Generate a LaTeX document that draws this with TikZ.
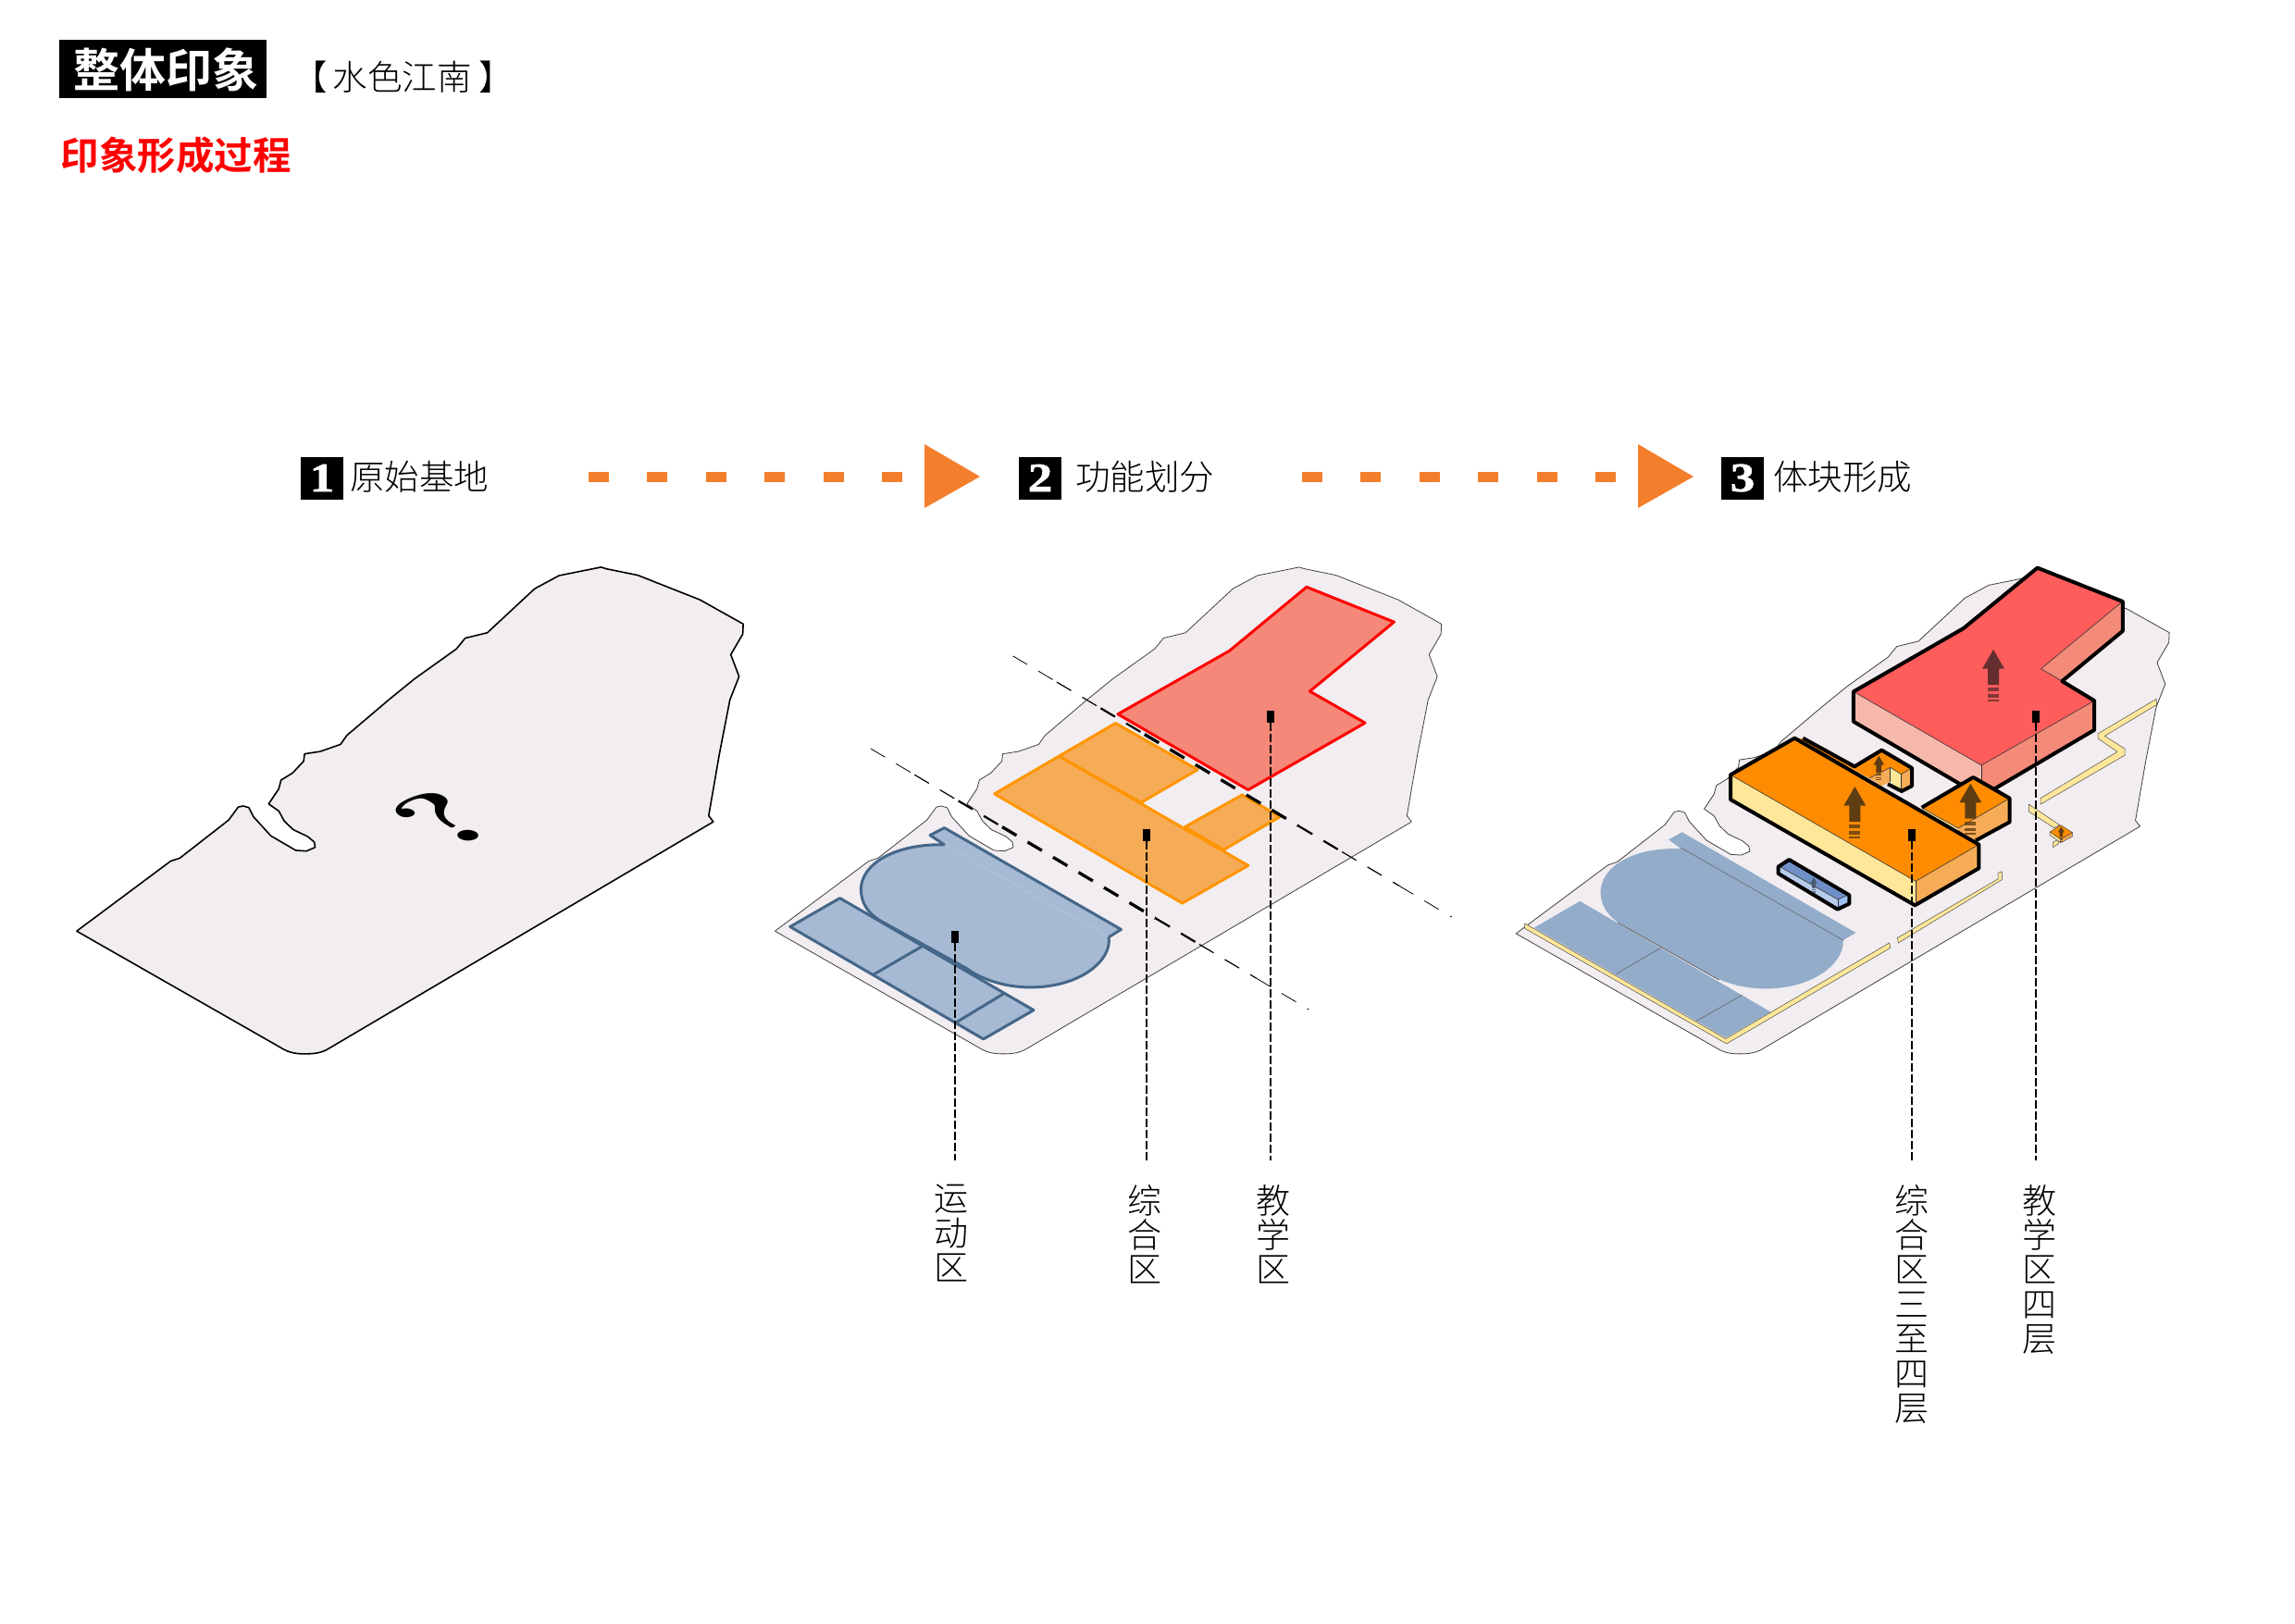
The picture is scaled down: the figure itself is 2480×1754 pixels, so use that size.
\documentclass[tikz,border=0pt]{standalone}
\usepackage{fontspec}
\usetikzlibrary{calc}
\newfontfamily\cjkreg{Noto Sans CJK SC}
\newfontfamily\cjkbold{Noto Sans CJK SC Bold}
\newfontfamily\cjklight{Noto Sans CJK SC Light}
\newfontfamily\fatnum[FakeStretch=1.2,FakeBold=1.5]{Liberation Serif Bold}
\definecolor{sitefill}{HTML}{F1EDF0}
\definecolor{orangearrow}{HTML}{F37F2D}
\definecolor{zoneblue}{HTML}{A6BAD3}
\definecolor{zonebluedk}{HTML}{456789}
\definecolor{fieldblue}{HTML}{93ACCA}
\definecolor{zoneorange}{HTML}{F6AB57}
\definecolor{strokeorange}{HTML}{FF9500}
\definecolor{zonered}{HTML}{F58878}
\definecolor{massred}{HTML}{FF5C5C}
\definecolor{massredl}{HTML}{F7B8AC}
\definecolor{massredr}{HTML}{F48A78}
\definecolor{massor}{HTML}{FF8C00}
\definecolor{massyel}{HTML}{FFE79A}
\definecolor{arrowbrown}{HTML}{5F3D13}
\definecolor{arrowred}{HTML}{642E30}
\definecolor{arrowgrey}{HTML}{4A5A70}
\definecolor{barside}{HTML}{B7CCEA}
\definecolor{barend}{HTML}{9CC0F0}
\definecolor{bartop}{HTML}{6F90C6}
\newcommand\sitepath{(46,1145) -- (250,937) -- (270,928) -- (376,815) -- (397,776) -- (408,773) -- (420,778) -- (430,805) -- (468,862) -- (522,905) -- (545,907) -- (564,896) -- (562,880) -- (548,864) -- (516,843) -- (497,818) -- (485,788) -- (463,767) -- (485,722) -- (490,696) -- (515,675) -- (539,640) -- (541,618) -- (575,611) -- (619,590) -- (633,563) -- (726,455) -- (780,395) -- (871,306) -- (890,274) -- (938,258) -- (1041,127) -- (1094,88) -- (1185,63) -- (1197,68) -- (1265,87) -- (1400,160) -- (1494,232) -- (1493,262) -- (1467,323) -- (1485,388) -- (1465,458) -- (1442,620) -- (1419,802) -- (1429,820) -- (590,1497) .. controls (575,1508) and (560,1510) .. (540,1510) .. controls (520,1510) and (505,1505) .. (490,1492) -- cycle}
\newcommand\taperdash[2]{\foreach \fa/\fb/\fw in {0/.1/.8,.1/.2/1.2,.2/.3/2.2,.3/.65/3.3,.65/.75/2.2,.75/.88/1.2,.88/1/.8}{\draw[black,line width=\fw pt,dash pattern=on 18pt off 14pt] ($(#1)!\fa!(#2)$) -- ($(#1)!\fb!(#2)$);}}
\newcommand\liftarrow[4]{\begin{scope}[shift={(#1pt,-#2pt)},x=#3pt,y=-#3pt]
\fill[#4] (0,0) -- (12,20.7) -- (6,20.7) -- (6,38) -- (-6,38) -- (-6,20.7) -- (-12,20.7) -- cycle;
\fill[#4,opacity=.8] (-6,41) rectangle (6,45.3);
\fill[#4,opacity=.8] (-6,48) rectangle (6,51.5);
\fill[#4,opacity=.8] (-6,53.5) rectangle (6,55.5);
\end{scope}}
\tikzset{
 sitebold/.style={fill=sitefill,draw=black,line width=1.6pt,line join=round},
 sitethin/.style={fill=sitefill,draw=black!75,line width=.8pt,line join=round},
 zonebluest/.style={fill=zoneblue,draw=zonebluedk,line width=3pt,line join=round},
 zoneorst/.style={fill=zoneorange,draw=strokeorange,line width=3pt,line join=round},
 zoneredst/.style={fill=zonered,draw=red,line width=3pt,line join=round},
 massline/.style={draw=black,line width=4pt,line join=round},
 thinline/.style={draw=black!80,line width=.6pt},
 wallst/.style={fill=massyel,draw=black!70,line width=.5pt,line join=round},
 marker/.style={fill=black,inner sep=0pt,minimum width=8pt,minimum height=12.5pt},
 leader/.style={black,line width=1.5pt,dash pattern=on 9pt off 3pt},
 vlabel/.style={font=\cjklight\fontsize{37}{37.4}\selectfont,align=center,anchor=north,inner sep=0pt},
 stepnum/.style={fill=black,text=white,inner sep=0pt,minimum size=46pt,font=\fatnum\fontsize{44}{44}\selectfont},
 steptext/.style={font=\cjklight\fontsize{37.5}{37.5}\selectfont,anchor=base west,inner sep=0pt},
 stepdash/.style={orangearrow,line width=11pt,dash pattern=on 22pt off 41.4pt},
}
\begin{document}
\begin{tikzpicture}[x=1pt,y=-1pt]
\useasboundingbox (0,0) rectangle (2480,1754);
\fill[white] (0,0) rectangle (2480,1754);
% titles
\node[fill=black,minimum width=224pt,minimum height=63pt,inner sep=0pt] (titlebox) at (176,74.5) {};
\node[text=white,font=\cjkbold\fontsize{50}{50}\selectfont,anchor=base west,inner sep=0pt] (title) at (79,94.5) {整体印象};
\node[font=\cjklight\fontsize{37.5}{37.5}\selectfont,anchor=base west,inner sep=0pt] (subtitle) at (316,97.7) {【\hspace{6pt}水色江南\hspace{8pt}】};
\node[text=red,font=\cjkbold\fontsize{41.5}{41.5}\selectfont,anchor=base west,inner sep=0pt] (process) at (65.5,183.3) {印象形成过程};
% step headers
\node[stepnum] (s1) at (348,516.5) {1};
\node[steptext] (t1) at (378,529.6) {原始基地};
\node[stepnum] (s2) at (1124,516.5) {2};
\node[steptext] (t2) at (1162,529.6) {功能划分};
\node[stepnum] (s3) at (1883,516.5) {3};
\node[steptext] (t3) at (1916,529.6) {体块形成};
\coordinate (a1) at (636,515); \coordinate (a2) at (975,515);
\coordinate (b1) at (1407,515); \coordinate (b2) at (1746,515);
\draw[stepdash] (a1) -- (a2);
\draw[stepdash] (b1) -- (b2);
\fill[orangearrow] (999,480) -- (1059,515) -- (999,549) -- cycle;
\fill[orangearrow] (1770,480) -- (1830,515) -- (1770,549) -- cycle;
% site 1
\begin{scope}[x=.4974pt,y=-.3635pt,shift={(60pt,-590pt)}]
\path[sitebold] \sitepath;
\end{scope}
\node[font=\bfseries\fontsize{124}{124}\selectfont,inner sep=0pt,cm={.94,.42,-.84,.5,(0,0)}] (qm) at (479,885) {?};
% site 2
\begin{scope}[x=.4974pt,y=-.3635pt,shift={(814.5pt,-590pt)}]
\path[sitethin] \sitepath;
\end{scope}
\begin{scope}[x=.4974pt,y=-.3635pt,shift={(820pt,-590pt)}]
\path[zonebluest] (372,860) -- (403,838) -- (787,1140) -- (760,1163) .. controls (768,1230) and (700,1312) .. (590,1312) .. controls (530,1312) and (480,1285) .. (450,1255) -- (265,1115) .. controls (235,1090) and (222,1060) .. (222,1020) .. controls (222,950) and (290,885) .. (403,888) -- cycle;
\draw[zonebluedk!35,line width=.5pt] (403,888) -- (760,1163);
\path[zonebluest] (68,1132) -- (176,1047) -- (597,1380) -- (488,1466) -- cycle;
\draw[zonebluest,fill=none] (355,1190) -- (248,1275);
\draw[zonebluest,fill=none] (533,1330) -- (428,1417);
\path[zoneorst] (652,625) -- (775,527) -- (953,665) -- (830,763) -- cycle;
\path[zoneorst] (925,836) -- (1050,740) -- (1132,805) -- (1010,903) -- cycle;
\path[zoneorst] (512,737) -- (652,625) -- (1063,950) -- (920,1062) -- cycle;
\path[zoneredst] (780,500) -- (1022,312) -- (1190,122) -- (1380,226) -- (1197,432) -- (1317,526) -- (1063,725) -- cycle;
\end{scope}
\coordinate (u1) at (1094.6,708.9); \coordinate (u2) at (1568.6,991);
\coordinate (v1) at (940.9,809); \coordinate (v2) at (1414.4,1091);
\taperdash{u1}{u2}
\taperdash{v1}{v2}
% site 3
\begin{scope}[x=.4875pt,y=-.3562pt,shift={(1615.8pt,-601pt)}]
\path[sitethin] \sitepath;
\end{scope}
\begin{scope}[x=.4847pt,y=-.3635pt,shift={(1620pt,-590pt)}]
\fill[fieldblue] (378,873) -- (408,851) -- (795,1150) -- (767,1172) .. controls (770,1240) and (700,1316) .. (595,1316) .. controls (530,1316) and (490,1290) .. (455,1265) -- (265,1120) .. controls (240,1095) and (226,1065) .. (226,1030) .. controls (226,960) and (290,895) .. (405,900) -- cycle;
\fill[fieldblue] (78,1135) -- (180,1056) -- (605,1385) -- (505,1462) -- cycle;
\draw[black!60,line width=.6pt] (405,897) -- (767,1172);
\draw[black!55,line width=1pt] (265,1120) -- (490,1290);
\draw[black!60,line width=.6pt] (360,1195) -- (260,1273);
\draw[black!60,line width=.6pt] (542,1335) -- (440,1412);
% walls
\path[wallst] (57,1122) -- (505,1465) -- (870,1180) -- (872,1195) -- (507,1480) -- (57,1137) -- cycle;
\path[wallst] (888,1165) -- (1112,990) -- (1112,972) -- (1121,968) -- (1121,992) -- (890,1180) -- cycle;
\path[wallst] (1207,750) -- (1378,612) -- (1335,572) -- (1335,558) -- (1465,455) -- (1466,472) -- (1350,565) -- (1395,603) -- (1395,622) -- (1207,768) -- cycle;
\path[wallst] (1181,768) -- (1250,830) -- (1237,838) -- (1181,790) -- cycle;
\path[wallst] (1235,880) -- (1247,873) -- (1247,885) -- (1235,896) -- cycle;
% small building
\path[wallst] (1228,850) -- (1252,872) -- (1252,882) -- (1228,860) -- cycle;
\path[fill=zoneorange,draw=black!70,line width=.5pt] (1252,872) -- (1278,852) -- (1278,864) -- (1252,882) -- cycle;
\path[fill=massor,draw=black!70,line width=.5pt] (1228,850) -- (1252,830) -- (1278,852) -- (1252,872) -- cycle;
% red building
\fill[massredl] (790,433) -- (1075,652) -- (1075,745) -- (790,522) -- cycle;
\fill[massredr] (1075,652) -- (1327,460) -- (1327,547) -- (1075,745) -- cycle;
\fill[massredr] (1208,365) -- (1390,165) -- (1390,253) -- (1255,402) -- cycle;
\fill[massred] (790,433) -- (1035,245) -- (1200,65) -- (1390,165) -- (1208,365) -- (1255,402) -- (1327,460) -- (1075,652) -- cycle;
\draw[thinline] (790,433) -- (1075,652) -- (1327,460);
\draw[thinline] (1075,652) -- (1075,745);
\draw[thinline] (1208,365) -- (1390,165);
\draw[thinline] (1208,365) -- (1255,402);
\draw[massline] (790,433) -- (1035,245) -- (1200,65) -- (1390,165) -- (1390,253) -- (1255,402) -- (1327,460) -- (1327,547) -- (1075,745) -- (790,522) -- cycle;
\end{scope}
\begin{scope}[x=.3333pt,y=-.3333pt,shift={(1820pt,-760pt)}]
% right small block
\fill[massyel] (775,340) -- (888,405) -- (888,415) -- (775,352) -- cycle;
\fill[zoneorange] (888,405) -- (1055,308) -- (1055,385) -- (945,445) -- (888,413) -- cycle;
\fill[massor] (770,338) -- (937,240) -- (1055,308) -- (888,405) -- cycle;
\draw[thinline] (775,342) -- (888,405) -- (1055,308);
\draw[massline] (770,338) -- (937,240) -- (1055,308) -- (1055,385) -- (945,445);
% upper back block
\fill[massor] (360,113) -- (390,115) -- (552,205) -- (640,152) -- (738,210) -- (703,230) -- (668,208) -- (600,243) -- cycle;
\fill[zoneorange] (600,243) -- (668,208) -- (668,255) -- (640,268) -- cycle;
\fill[massyel] (668,208) -- (703,230) -- (703,282) -- (668,255) -- cycle;
\fill[zoneorange] (703,230) -- (738,210) -- (738,268) -- (703,282) -- cycle;
\draw[thinline] (600,243) -- (668,208) -- (703,230) -- (738,210);
\draw[thinline] (668,208) -- (668,255);
\draw[thinline] (703,230) -- (703,282);
\draw[massline] (385,113) -- (552,205) -- (640,152) -- (738,210) -- (738,268) -- (705,285) -- (660,262);
% main bar
\fill[massyel] (150,232) -- (750,577) -- (750,655) -- (150,312) -- cycle;
\fill[zoneorange] (750,577) -- (955,458) -- (955,535) -- (750,655) -- cycle;
\fill[massor] (150,232) -- (358,113) -- (955,458) -- (750,577) -- cycle;
\draw[thinline] (150,232) -- (750,577) -- (955,458);
\draw[thinline] (750,577) -- (750,655);
\draw[massline] (150,232) -- (358,113) -- (955,458) -- (955,535) -- (748,655) -- (150,312) -- cycle;
% blue bar
\fill[barside] (310,530) -- (498,636) -- (498,662) -- (310,552) -- cycle;
\fill[barend] (498,636) -- (530,622) -- (530,648) -- (498,662) -- cycle;
\fill[bartop] (310,530) -- (340,510) -- (530,622) -- (498,636) -- cycle;
\draw[thinline] (310,530) -- (498,636) -- (530,622);
\draw[thinline] (498,636) -- (498,662);
\draw[massline] (305,530) -- (340,507) -- (535,622) -- (535,650) -- (497,668) -- (305,552) -- cycle;
\end{scope}
\liftarrow{2154}{702}{1}{arrowred}
\liftarrow{2004.3}{850}{1}{arrowbrown}
\liftarrow{2129.3}{846.7}{1}{arrowbrown}
\liftarrow{2030.3}{816.7}{.48}{arrowbrown}
\liftarrow{1960}{948.3}{.3}{arrowgrey}
\liftarrow{2227.3}{893.3}{.29}{arrowbrown}
% markers and leaders
\node[marker] (m1) at (1032,1012.5) {};
\node[marker] (m2) at (1239,902.5) {};
\node[marker] (m3) at (1373,774.5) {};
\node[marker] (m4) at (2066,902.5) {};
\node[marker] (m5) at (2200,774.5) {};
\coordinate (e1) at (1032,1254); \coordinate (e2) at (1239,1254); \coordinate (e3) at (1373,1254); \coordinate (e4) at (2066,1254); \coordinate (e5) at (2200,1254);
\draw[leader] (m1.south) -- (e1);
\draw[leader] (m2.south) -- (e2);
\draw[leader] (m3.south) -- (e3);
\draw[leader] (m4.south) -- (e4);
\draw[leader] (m5.south) -- (e5);
\node[vlabel] (l1) at (1028,1280) {运\\动\\区};
\node[vlabel] (l2) at (1237,1280) {综\\合\\区};
\node[vlabel] (l3) at (1376,1280) {教\\学\\区};
\node[vlabel] (l4) at (2066,1280) {综\\合\\区\\三\\至\\四\\层};
\node[vlabel] (l5) at (2204,1280) {教\\学\\区\\四\\层};
\end{tikzpicture}
\end{document}
